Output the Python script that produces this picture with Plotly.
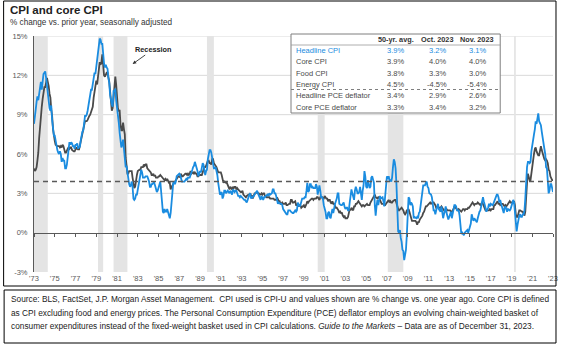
import pandas as pd
import plotly.graph_objects as go

# Monthly year-over-year % change, Nov 1973 - Nov 2023
headline_cpi = [
    8.3, 8.7,                                                          # 1973 (Nov-Dec)
    9.4, 10.0, 10.4, 10.1, 10.7, 10.9, 11.5, 10.9, 11.9, 12.1, 12.2, 12.3,  # 1974
    11.8, 11.2, 10.3, 10.2, 9.5, 9.3, 9.7, 8.6, 7.9, 7.4, 7.4, 6.9,    # 1975
    6.7, 6.3, 6.1, 6.0, 6.2, 6.0, 5.4, 5.7, 5.5, 5.5, 4.9, 4.9,        # 1976
    5.2, 6.0, 6.4, 6.9, 6.7, 6.9, 6.8, 6.6, 6.6, 6.4, 6.7, 6.7,        # 1977
    6.8, 6.4, 6.6, 6.5, 7.0, 7.4, 7.7, 7.8, 8.3, 8.9, 8.9, 9.0,        # 1978
    9.3, 9.9, 10.1, 10.5, 10.9, 10.9, 11.3, 11.8, 12.2, 12.1, 12.6, 13.3,  # 1979
    13.9, 14.2, 14.8, 14.7, 14.4, 14.4, 13.1, 12.9, 12.6, 12.8, 12.6, 12.5,  # 1980
    11.8, 11.4, 10.5, 10.0, 9.8, 9.6, 10.8, 10.8, 11.0, 10.1, 9.6, 8.9,  # 1981
    8.4, 7.6, 6.8, 6.5, 6.7, 7.1, 6.4, 5.9, 5.0, 5.1, 4.6, 3.8,        # 1982
    3.7, 3.5, 3.6, 3.9, 3.5, 2.6, 2.5, 2.6, 2.9, 2.9, 3.3, 3.8,        # 1983
    4.2, 4.6, 4.8, 4.6, 4.2, 4.2, 4.2, 4.3, 4.3, 4.3, 4.1, 3.9,        # 1984
    3.5, 3.5, 3.7, 3.7, 3.8, 3.8, 3.6, 3.3, 3.1, 3.2, 3.5, 3.8,        # 1985
    3.9, 3.1, 2.2, 1.6, 1.5, 1.8, 1.6, 1.6, 1.8, 1.5, 1.3, 1.1,        # 1986
    1.5, 2.1, 3.0, 3.8, 3.9, 3.7, 3.9, 4.3, 4.4, 4.5, 4.5, 4.4,        # 1987
    4.0, 3.9, 3.9, 3.9, 3.9, 4.0, 4.1, 4.0, 4.2, 4.2, 4.2, 4.4,        # 1988
    4.7, 4.8, 5.0, 5.1, 5.4, 5.2, 5.0, 4.7, 4.3, 4.5, 4.7, 4.6,        # 1989
    5.2, 5.3, 5.2, 4.7, 4.4, 4.7, 4.8, 5.6, 6.2, 6.3, 6.3, 6.1,        # 1990
    5.7, 5.3, 4.9, 4.9, 5.0, 4.7, 4.4, 3.8, 3.4, 2.9, 3.0, 3.1,        # 1991
    2.6, 2.8, 3.2, 3.2, 3.0, 3.1, 3.2, 3.1, 3.0, 3.2, 3.0, 2.9,        # 1992
    3.3, 3.2, 3.1, 3.2, 3.2, 3.0, 2.8, 2.8, 2.7, 2.8, 2.7, 2.7,        # 1993
    2.5, 2.5, 2.5, 2.4, 2.3, 2.5, 2.8, 2.9, 3.0, 2.6, 2.7, 2.7,        # 1994
    2.8, 2.9, 2.9, 3.1, 3.2, 3.0, 2.8, 2.6, 2.5, 2.8, 2.6, 2.5,        # 1995
    2.7, 2.7, 2.8, 2.9, 2.9, 2.8, 3.0, 2.9, 3.0, 3.0, 3.3, 3.3,        # 1996
    3.0, 3.0, 2.8, 2.5, 2.2, 2.3, 2.2, 2.2, 2.2, 2.1, 1.8, 1.7,        # 1997
    1.6, 1.4, 1.4, 1.4, 1.7, 1.7, 1.7, 1.6, 1.5, 1.5, 1.5, 1.6,        # 1998
    1.7, 1.6, 1.7, 2.3, 2.1, 2.0, 2.1, 2.3, 2.6, 2.6, 2.6, 2.7,        # 1999
    2.7, 3.2, 3.8, 3.1, 3.2, 3.7, 3.7, 3.4, 3.5, 3.4, 3.4, 3.4,        # 2000
    3.7, 3.5, 2.9, 3.3, 3.6, 3.2, 2.7, 2.7, 2.6, 2.1, 1.9, 1.6,        # 2001
    1.1, 1.1, 1.5, 1.6, 1.2, 1.1, 1.5, 1.8, 1.5, 2.0, 2.2, 2.4,        # 2002
    2.6, 3.0, 3.0, 2.2, 2.1, 2.1, 2.1, 2.2, 2.3, 2.0, 1.8, 1.9,        # 2003
    1.9, 1.7, 1.7, 2.3, 3.1, 3.3, 3.0, 2.7, 2.5, 3.2, 3.5, 3.3,        # 2004
    3.0, 3.0, 3.1, 3.5, 2.8, 2.5, 3.2, 3.6, 4.7, 4.3, 3.5, 3.4,        # 2005
    4.0, 3.6, 3.4, 3.5, 4.2, 4.3, 4.1, 3.8, 2.1, 1.3, 2.0, 2.5,        # 2006
    2.1, 2.4, 2.8, 2.6, 2.7, 2.7, 2.4, 2.0, 2.8, 3.5, 4.3, 4.1,        # 2007
    4.3, 4.0, 4.0, 3.9, 4.2, 5.0, 5.6, 5.4, 4.9, 3.7, 1.1, 0.1,        # 2008
    0.0, 0.2, -0.4, -0.7, -1.3, -1.4, -2.1, -1.5, -1.3, -0.2, 1.8, 2.7,  # 2009
    2.6, 2.1, 2.3, 2.2, 2.0, 1.1, 1.2, 1.1, 1.1, 1.2, 1.1, 1.5,        # 2010
    1.6, 2.1, 2.7, 3.2, 3.6, 3.6, 3.6, 3.8, 3.9, 3.5, 3.4, 3.0,        # 2011
    2.9, 2.9, 2.7, 2.3, 1.7, 1.7, 1.4, 1.7, 2.0, 2.2, 1.8, 1.7,        # 2012
    1.6, 2.0, 1.5, 1.1, 1.4, 1.8, 2.0, 1.5, 1.2, 1.0, 1.2, 1.5,        # 2013
    1.6, 1.1, 1.5, 2.0, 2.1, 2.1, 2.0, 1.7, 1.7, 1.7, 1.3, 0.8,        # 2014
    -0.1, 0.0, -0.1, -0.2, 0.0, 0.1, 0.2, 0.2, 0.0, 0.2, 0.5, 0.7,     # 2015
    1.4, 1.0, 0.9, 1.1, 1.0, 1.0, 0.8, 1.1, 1.5, 1.6, 1.7, 2.1,        # 2016
    2.5, 2.7, 2.4, 2.2, 1.9, 1.6, 1.7, 1.9, 2.2, 2.0, 2.2, 2.1,        # 2017
    2.1, 2.2, 2.4, 2.5, 2.8, 2.9, 2.9, 2.7, 2.3, 2.5, 2.2, 1.9,        # 2018
    1.6, 1.5, 1.9, 2.0, 1.8, 1.6, 1.8, 1.7, 1.7, 1.8, 2.1, 2.3,        # 2019
    2.5, 2.3, 1.5, 0.3, 0.1, 0.6, 1.0, 1.3, 1.4, 1.2, 1.2, 1.4,        # 2020
    1.4, 1.7, 2.6, 4.2, 5.0, 5.4, 5.4, 5.3, 5.4, 6.2, 6.8, 7.0,        # 2021
    7.5, 7.9, 8.5, 8.3, 8.6, 9.1, 8.5, 8.3, 8.2, 7.7, 7.1, 6.5,        # 2022
    6.4, 6.0, 5.0, 4.9, 4.0, 3.0, 3.2, 3.7, 3.7, 3.2, 3.1,             # 2023 (Jan-Nov)
]

core_cpi = [
    4.9, 4.7,                                                          # 1973 (Nov-Dec)
    4.8, 5.0, 5.5, 6.1, 7.2, 8.2, 8.8, 9.6, 10.2, 10.7, 11.1, 11.1,    # 1974
    11.6, 11.8, 11.5, 11.2, 10.6, 10.3, 9.4, 8.9, 7.9, 7.3, 7.0, 6.7,  # 1975
    6.6, 6.6, 6.6, 6.6, 6.5, 6.6, 6.5, 6.7, 6.6, 6.4, 6.1, 6.1,        # 1976
    6.2, 6.4, 6.5, 6.4, 6.5, 6.5, 6.3, 6.2, 6.2, 6.2, 6.4, 6.5,        # 1977
    6.4, 6.5, 6.3, 6.6, 6.9, 7.4, 7.7, 7.9, 8.3, 8.5, 8.5, 8.5,        # 1978
    8.6, 8.8, 8.9, 9.0, 9.2, 9.3, 9.6, 10.3, 10.9, 11.3, 11.6, 11.3,   # 1979
    12.0, 12.5, 13.0, 12.8, 13.0, 13.6, 12.5, 12.0, 11.9, 12.1, 12.2, 12.2,  # 1980
    11.9, 11.5, 10.8, 9.9, 9.3, 9.5, 10.6, 11.0, 11.9, 11.3, 10.2, 9.5,  # 1981
    9.3, 9.3, 8.3, 7.8, 7.8, 8.4, 7.9, 7.5, 5.7, 5.1, 4.5, 4.5,        # 1982
    4.7, 4.7, 4.7, 4.7, 4.2, 3.6, 3.4, 3.5, 4.2, 4.4, 4.7, 4.8,        # 1983
    4.8, 4.8, 5.0, 5.0, 5.0, 5.2, 5.1, 5.2, 5.2, 4.9, 4.8, 4.7,        # 1984
    4.6, 4.6, 4.4, 4.4, 4.5, 4.3, 4.4, 4.2, 4.2, 4.2, 4.3, 4.3,        # 1985
    4.4, 4.3, 4.3, 4.2, 4.0, 4.0, 4.1, 4.0, 4.1, 3.9, 3.8, 3.8,        # 1986
    3.3, 3.5, 3.6, 3.8, 3.8, 3.9, 4.0, 4.2, 4.2, 4.3, 4.3, 4.2,        # 1987
    4.5, 4.3, 4.3, 4.4, 4.4, 4.5, 4.5, 4.4, 4.5, 4.4, 4.5, 4.7,        # 1988
    4.5, 4.6, 4.6, 4.5, 4.6, 4.5, 4.5, 4.3, 4.3, 4.4, 4.4, 4.4,        # 1989
    4.4, 4.6, 4.9, 5.0, 5.0, 5.1, 5.3, 5.5, 5.5, 5.3, 5.3, 5.2,        # 1990
    5.6, 5.6, 5.3, 5.2, 5.1, 5.0, 4.8, 4.6, 4.6, 4.6, 4.6, 4.4,        # 1991
    3.9, 3.8, 3.9, 3.8, 3.8, 3.8, 3.6, 3.4, 3.3, 3.5, 3.4, 3.3,        # 1992
    3.5, 3.4, 3.5, 3.5, 3.3, 3.4, 3.3, 3.2, 3.1, 3.1, 3.1, 3.2,        # 1993
    2.9, 2.8, 2.8, 2.7, 2.8, 2.9, 2.9, 2.9, 3.0, 2.8, 2.8, 2.6,        # 1994
    2.9, 3.0, 3.0, 3.1, 3.1, 3.0, 3.0, 2.9, 2.9, 3.0, 2.9, 3.0,        # 1995
    3.0, 2.8, 2.8, 2.7, 2.7, 2.7, 2.7, 2.6, 2.6, 2.6, 2.6, 2.6,        # 1996
    2.5, 2.5, 2.5, 2.7, 2.5, 2.4, 2.4, 2.2, 2.2, 2.3, 2.2, 2.2,        # 1997
    2.2, 2.3, 2.1, 2.1, 2.2, 2.2, 2.2, 2.5, 2.5, 2.3, 2.3, 2.4,        # 1998
    2.4, 2.1, 2.1, 2.2, 2.0, 2.1, 2.1, 1.9, 2.0, 2.1, 2.1, 1.9,        # 1999
    2.0, 2.2, 2.4, 2.3, 2.4, 2.5, 2.5, 2.6, 2.6, 2.5, 2.6, 2.6,        # 2000
    2.6, 2.7, 2.7, 2.6, 2.5, 2.7, 2.7, 2.7, 2.6, 2.6, 2.8, 2.7,        # 2001
    2.6, 2.6, 2.4, 2.5, 2.5, 2.3, 2.2, 2.4, 2.2, 2.2, 2.0, 1.9,        # 2002
    1.9, 1.8, 1.7, 1.5, 1.6, 1.5, 1.5, 1.3, 1.2, 1.3, 1.1, 1.1,        # 2003
    1.1, 1.2, 1.6, 1.8, 1.7, 1.9, 1.8, 1.7, 2.0, 2.0, 2.2, 2.2,        # 2004
    2.3, 2.4, 2.3, 2.2, 2.2, 2.0, 2.1, 2.1, 2.0, 2.1, 2.1, 2.2,        # 2005
    2.1, 2.1, 2.1, 2.3, 2.4, 2.6, 2.7, 2.8, 2.9, 2.7, 2.6, 2.6,        # 2006
    2.7, 2.7, 2.5, 2.3, 2.2, 2.2, 2.2, 2.1, 2.1, 2.2, 2.3, 2.4,        # 2007
    2.5, 2.3, 2.4, 2.3, 2.3, 2.4, 2.5, 2.5, 2.5, 2.2, 2.0, 1.8,        # 2008
    1.7, 1.8, 1.8, 1.9, 1.8, 1.7, 1.5, 1.4, 1.5, 1.7, 1.7, 1.8,        # 2009
    1.6, 1.3, 1.1, 0.9, 0.9, 0.9, 0.9, 0.9, 0.8, 0.6, 0.8, 0.8,        # 2010
    1.0, 1.1, 1.2, 1.3, 1.5, 1.6, 1.8, 2.0, 2.0, 2.1, 2.2, 2.2,        # 2011
    2.3, 2.2, 2.3, 2.3, 2.3, 2.2, 2.1, 1.9, 2.0, 2.0, 1.9, 1.9,        # 2012
    1.9, 2.0, 1.9, 1.7, 1.7, 1.6, 1.7, 1.8, 1.7, 1.7, 1.7, 1.7,        # 2013
    1.6, 1.6, 1.7, 1.8, 2.0, 1.9, 1.9, 1.7, 1.7, 1.8, 1.7, 1.6,        # 2014
    1.6, 1.7, 1.8, 1.8, 1.7, 1.8, 1.8, 1.8, 1.9, 1.9, 2.0, 2.1,        # 2015
    2.2, 2.3, 2.2, 2.1, 2.2, 2.2, 2.2, 2.3, 2.2, 2.1, 2.1, 2.2,        # 2016
    2.3, 2.2, 2.0, 1.9, 1.7, 1.7, 1.7, 1.7, 1.7, 1.8, 1.7, 1.8,        # 2017
    1.8, 1.8, 2.1, 2.1, 2.2, 2.3, 2.4, 2.2, 2.2, 2.1, 2.2, 2.2,        # 2018
    2.2, 2.1, 2.0, 2.1, 2.0, 2.1, 2.2, 2.4, 2.4, 2.3, 2.3, 2.3,        # 2019
    2.3, 2.4, 2.1, 1.4, 1.2, 1.2, 1.6, 1.7, 1.7, 1.6, 1.6, 1.6,        # 2020
    1.4, 1.3, 1.6, 3.0, 3.8, 4.5, 4.3, 4.0, 4.0, 4.6, 4.9, 5.5,        # 2021
    6.0, 6.4, 6.5, 6.2, 6.0, 5.9, 5.9, 6.3, 6.6, 6.3, 6.0, 5.7,        # 2022
    5.6, 5.5, 5.6, 5.5, 5.3, 4.8, 4.7, 4.3, 4.1, 4.0, 4.0,             # 2023 (Jan-Nov)
]

first_month = "1973-11-01"
last_month = "2023-11-01"
avg_50yr = 3.9

# NBER recession periods
recession_start = ["1973-11-01", "1980-01-01", "1981-07-01", "1990-07-01",
                   "2001-03-01", "2007-12-01", "2020-02-01"]
recession_end = ["1975-03-01", "1980-07-01", "1982-11-01", "1991-03-01",
                 "2001-11-01", "2009-06-01", "2020-04-01"]

tick_years = list(range(1973, 2024, 2))
tick_labels = ["'%02d" % (y % 100) for y in tick_years]
y_ticks = [-3, 0, 3, 6, 9, 12, 15]
grid_levels = [3, 6, 9, 12, 15]

# Summary table
table_header = ["50-yr. avg.", "Oct. 2023", "Nov. 2023"]
table_rows = ["Headline CPI", "Core CPI", "Food CPI", "Energy CPI",
              "Headline PCE deflator", "Core PCE deflator"]
table_avg = ["3.9%", "3.9%", "3.8%", "4.5%", "3.4%", "3.3%"]
table_oct = ["3.2%", "4.0%", "3.3%", "-4.5%", "2.9%", "3.4%"]
table_nov = ["3.1%", "4.0%", "3.0%", "-5.4%", "2.6%", "3.2%"]

footnote_lines = [
    "Source: BLS, FactSet, J.P. Morgan Asset Management.  CPI used is CPI-U and values shown are % change vs. one year ago. Core CPI is defined",
    "as CPI excluding food and energy prices. The Personal Consumption Expenditure (PCE) deflator employs an evolving chain-weighted basket of",
    "consumer expenditures instead of the fixed-weight basket used in CPI calculations. <i>Guide to the Markets</i> \u2013 Data are as of December 31, 2023.",
]

BLUE = "#1a8ce0"
DARK = "#4a4a4a"
AXIS = "#595959"
FONT = "Liberation Sans, Arial, sans-serif"

W, H = 575, 348
PL, PR, PT, PB = 32, 553, 36, 272   # plot area in pixels
Y_MIN, Y_MAX = -3, 15


def px(x):
    return (x - PL) / (PR - PL)


def py(y):
    return (PB - y) / (PB - PT)


months = pd.date_range(first_month, periods=len(headline_cpi), freq="MS")
tick_dates = [f"{y}-11-01" for y in tick_years]

fig = go.Figure()

fig.add_trace(go.Scatter(x=months, y=core_cpi, mode="lines", name="Core CPI",
                         line=dict(color=DARK, width=1.8), hoverinfo="skip"))
fig.add_trace(go.Scatter(x=months, y=headline_cpi, mode="lines", name="Headline CPI",
                         line=dict(color=BLUE, width=1.8), hoverinfo="skip"))
# 50-year average, on the overlay axis that also carries the zero line
fig.add_trace(go.Scatter(x=[first_month, last_month], y=[avg_50yr, avg_50yr],
                         mode="lines", xaxis="x2", yaxis="y",
                         line=dict(color=AXIS, width=1.4, dash="5px,4px"),
                         hoverinfo="skip"))

shapes = []
for lv in grid_levels:
    shapes.append(dict(type="line", xref="paper", yref="y", x0=0, x1=1, y0=lv, y1=lv,
                       line=dict(color="#d9d9d9", width=1), layer="below"))
for s, e in zip(recession_start, recession_end):
    shapes.append(dict(type="rect", xref="x", yref="paper", x0=s, x1=e, y0=0, y1=1,
                       fillcolor="#e4e4e4", line=dict(width=0), layer="below"))

# table frame and separators
tx0, tx1, ty0, ty1 = 290, 500, 34, 113
shapes.append(dict(type="rect", xref="paper", yref="paper",
                   x0=px(tx0), x1=px(tx1), y0=py(ty1), y1=py(ty0),
                   fillcolor="white", line=dict(color="#7f7f7f", width=1), layer="above"))
shapes.append(dict(type="line", xref="paper", yref="paper",
                   x0=px(tx0), x1=px(tx1), y0=py(45), y1=py(45),
                   line=dict(color="#9a9a9a", width=0.8), layer="above"))
shapes.append(dict(type="line", xref="paper", yref="paper",
                   x0=px(tx0), x1=px(tx1), y0=py(89.5), y1=py(89.5),
                   line=dict(color="#7f7f7f", width=1, dash="dot"), layer="above"))

# outer frame and footnote box
shapes.append(dict(type="rect", xref="paper", yref="paper",
                   x0=px(1.5), x1=px(556), y0=py(286), y1=py(1),
                   line=dict(color="black", width=1), layer="above"))
shapes.append(dict(type="rect", xref="paper", yref="paper",
                   x0=px(2), x1=px(556), y0=py(343), y1=py(290),
                   line=dict(color="black", width=1), layer="above"))

ann = []


def text(x, y, s, size=7.5, color=DARK, xanchor="left", bold=False):
    ann.append(dict(x=px(x), y=py(y), xref="paper", yref="paper", text=f"<b>{s}</b>" if bold else s,
                    showarrow=False, xanchor=xanchor, yanchor="middle",
                    font=dict(family=FONT, size=size, color=color)))


text(6, 10, "CPI and core CPI", size=11.5, color="#222222", bold=True)
text(6, 23, "% change vs. prior year, seasonally adjusted", size=8.2, color="#333333")

# table content
col_x = [395, 437, 477]
for cx, h in zip(col_x, table_header):
    text(cx, 40, h, size=7.3, color="#333333", xanchor="center", bold=True)
row_y0, row_step = 50.5, 11.3
for i, name in enumerate(table_rows):
    ry = row_y0 + i * row_step
    c = BLUE if i == 0 else DARK
    text(293, ry, name, size=7.5, color=c)
    for cx, v in zip(col_x, (table_avg[i], table_oct[i], table_nov[i])):
        text(cx, ry, v, size=7.5, color=c, xanchor="center")

# recession callout
ann.append(dict(x=px(131), y=py(64), xref="paper", yref="paper", text="<b>Recession</b>",
                showarrow=True, arrowhead=2, arrowsize=0.8, arrowwidth=0.9, arrowcolor="#333333",
                ax=21, ay=-15, standoff=0, startstandoff=0,
                font=dict(family=FONT, size=7.3, color="#222222")))

# footnote
for i, line in enumerate(footnote_lines):
    text(7, 299 + i * 13.5, line, size=8.3, color="#222222")

fig.update_layout(
    width=W, height=H,
    margin=dict(l=PL, r=W - PR, t=PT, b=H - PB),
    paper_bgcolor="white", plot_bgcolor="white",
    showlegend=False,
    shapes=shapes, annotations=ann,
    xaxis=dict(type="date", range=[first_month, last_month], tickvals=tick_dates,
               ticktext=tick_labels, showgrid=False, zeroline=False, showline=False,
               ticks="", tickfont=dict(family=FONT, size=7.5, color=AXIS)),
    xaxis2=dict(type="date", range=[first_month, last_month], overlaying="x",
                anchor="free", position=(0 - Y_MIN) / (Y_MAX - Y_MIN), side="bottom",
                tickvals=tick_dates, showticklabels=False, showgrid=False, zeroline=False,
                showline=True, linecolor=AXIS, linewidth=1, ticks="outside",
                ticklen=3, tickcolor=AXIS, tickwidth=1),
    yaxis=dict(range=[Y_MIN, Y_MAX], tickvals=y_ticks, ticktext=[f"{v}%" for v in y_ticks],
               showgrid=False, zeroline=False, showline=True, linecolor=AXIS, linewidth=1,
               ticks="", ticklabelstandoff=4,
               tickfont=dict(family=FONT, size=7.5, color=AXIS)),
)

fig.write_html("out.html")
